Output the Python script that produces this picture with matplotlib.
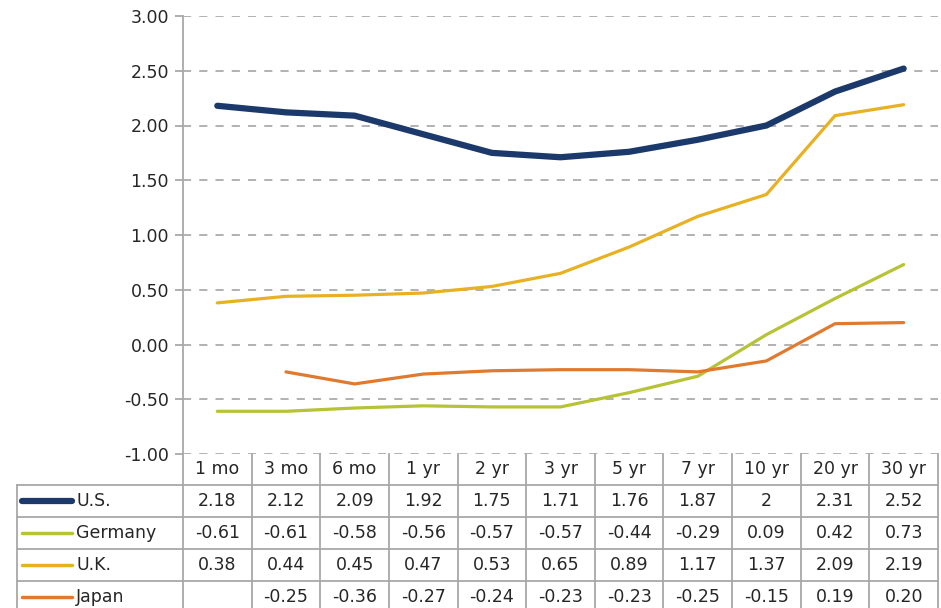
import numpy as np
import matplotlib
matplotlib.use("Agg")
import matplotlib.pyplot as plt
from matplotlib.lines import Line2D

plt.rcParams['font.family'] = ['DejaVu Sans']

categories = ["1 mo", "3 mo", "6 mo", "1 yr", "2 yr", "3 yr", "5 yr", "7 yr", "10 yr", "20 yr", "30 yr"]
series_names = ["U.S.", "Germany", "U.K.", "Japan"]
us = [2.18, 2.12, 2.09, 1.92, 1.75, 1.71, 1.76, 1.87, 2.00, 2.31, 2.52]
germany = [-0.61, -0.61, -0.58, -0.56, -0.57, -0.57, -0.44, -0.29, 0.09, 0.42, 0.73]
uk = [0.38, 0.44, 0.45, 0.47, 0.53, 0.65, 0.89, 1.17, 1.37, 2.09, 2.19]
japan = [np.nan, -0.25, -0.36, -0.27, -0.24, -0.23, -0.23, -0.25, -0.15, 0.19, 0.20]
us_labels = ["2.18", "2.12", "2.09", "1.92", "1.75", "1.71", "1.76", "1.87", "2", "2.31", "2.52"]
germany_labels = ["-0.61", "-0.61", "-0.58", "-0.56", "-0.57", "-0.57", "-0.44", "-0.29", "0.09", "0.42", "0.73"]
uk_labels = ["0.38", "0.44", "0.45", "0.47", "0.53", "0.65", "0.89", "1.17", "1.37", "2.09", "2.19"]
japan_labels = ["", "-0.25", "-0.36", "-0.27", "-0.24", "-0.23", "-0.23", "-0.25", "-0.15", "0.19", "0.20"]
yticks = [-1.0, -0.5, 0.0, 0.5, 1.0, 1.5, 2.0, 2.5, 3.0]

colors = ["#1B3A6B", "#B5C334", "#E8B122", "#E07A2E"]
widths = [4.5, 2.3, 2.3, 2.3]
values = [us, germany, uk, japan]
labels = [us_labels, germany_labels, uk_labels, japan_labels]

W, H = 941, 608
fig = plt.figure(figsize=(W / 100, H / 100), dpi=100)
ax_left, ax_right, ax_top, ax_bot = 183, 938, 16, 454
ax = fig.add_axes([ax_left / W, 1 - ax_bot / H, (ax_right - ax_left) / W, (ax_bot - ax_top) / H])

x = np.arange(len(categories))
for v, c, lw in zip(values, colors, widths):
    ax.plot(x, v, color=c, lw=lw, solid_capstyle='round', solid_joinstyle='round', zorder=3)

gc = "#A8A8A8"
glw = 1.3
ax.set_xlim(-0.5, len(categories) - 0.5)
ax.set_ylim(-1.0, 3.0)
ax.set_yticks(yticks)
ax.set_yticklabels([f"{t:.2f}" for t in yticks])
ax.yaxis.grid(True, color="#ABABAB", linestyle=(0, (4.5, 4.5)), linewidth=1.3)
ax.set_axisbelow(True)
ax.set_xticks([])
for s in ["top", "right", "bottom"]:
    ax.spines[s].set_visible(False)
ax.spines["left"].set_color(gc)
ax.spines["left"].set_linewidth(glw)
ax.tick_params(axis='y', length=6, width=1.3, color=gc, labelsize=12.5, labelcolor="#262626", pad=4)

# table below
axh = ax_bot - ax_top
def fy(py):
    return (ax_bot - py) / axh
row_edges = [454, 485, 517, 549, 581, 613]
trans = ax.get_xaxis_transform()
colw_px = (ax_right - ax_left) / len(categories)
label_left = -0.5 - (ax_left - 17) / colw_px
n = len(categories)
for i in range(n + 1):
    ax.add_line(Line2D([i - 0.5, i - 0.5], [fy(454), fy(613)], transform=trans, color=gc, lw=glw, clip_on=False))
ax.add_line(Line2D([label_left, label_left], [fy(485), fy(613)], transform=trans, color=gc, lw=glw, clip_on=False))
for ry in row_edges[1:]:
    ax.add_line(Line2D([label_left, n - 0.5], [fy(ry), fy(ry)], transform=trans, color=gc, lw=glw, clip_on=False))
fs = 12.5
tc = "#262626"
for i, cat in enumerate(categories):
    ax.text(i, fy((row_edges[0] + row_edges[1]) / 2), cat, transform=trans, ha='center', va='center', fontsize=fs, color=tc, clip_on=False)
for r, (name, labs, c) in enumerate(zip(series_names, labels, colors)):
    yc = fy((row_edges[r + 1] + row_edges[r + 2]) / 2)
    lx0 = label_left + (22 - 17) / colw_px
    lx1 = label_left + (72 - 17) / colw_px
    ax.add_line(Line2D([lx0, lx1], [yc, yc], transform=trans, color=c, lw=4.5 if r == 0 else 2.5,
                       solid_capstyle='round', clip_on=False))
    ax.text(label_left + (76 - 17) / colw_px, yc, name, transform=trans, ha='left', va='center', fontsize=fs, color=tc, clip_on=False)
    for i, s in enumerate(labs):
        ax.text(i, yc, s, transform=trans, ha='center', va='center', fontsize=fs, color=tc, clip_on=False)

fig.savefig("out.png", dpi=100)
